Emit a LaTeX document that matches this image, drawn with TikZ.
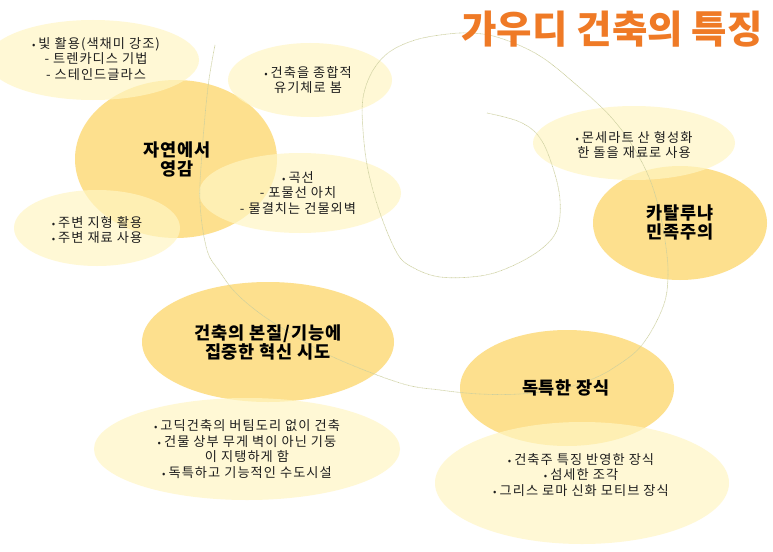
\documentclass[tikz,border=0pt]{standalone}
\usepackage{fontspec}
\setmainfont{Noto Sans CJK KR}
\usetikzlibrary{shapes.geometric}
\definecolor{gold}{RGB}{253,224,142}
\definecolor{pale}{RGB}{255,246,196}
\definecolor{curvecol}{RGB}{204,207,158}
\definecolor{titleor}{RGB}{239,122,38}
\definecolor{bodytxt}{RGB}{30,30,30}
\tikzset{
 bigell/.style={ellipse, fill=gold, draw=none, inner sep=0pt},
 paleell/.style={ellipse, fill=pale, fill opacity=0.7, draw=none, inner sep=0pt},
 mainlbl/.style={font=\fontsize{17.5}{19}\selectfont\bfseries\addfontfeature{LetterSpace=5}, align=center, text=black, inner sep=0pt},
 bodylbl/.style={font=\fontsize{13.2}{15.6}\selectfont\addfontfeature{LetterSpace=8}, align=center, text=bodytxt, inner sep=0pt},
 spiralline/.style={draw=curvecol, line width=0.6pt, dash pattern=on 0.8pt off 0.5pt},
 titlelbl/.style={font=\fontsize{38.5}{40}\selectfont\bfseries, text=titleor, inner sep=0pt},
}
\newcommand{\bul}{{\fontsize{10}{10}\selectfont •}\hspace{3pt}}
\begin{document}
\begin{tikzpicture}[x=1pt,y=-1pt]
\useasboundingbox (0,0) rectangle (773,551);
\fill[white] (0,0) rectangle (773,551);
\clip (0,0) rectangle (773,551);
% main ellipses
\node[bigell, minimum width=202pt, minimum height=158pt] (e1) at (176,159) {};
\node[bigell, minimum width=174pt, minimum height=114pt] (e2) at (680,223) {};
\node[bigell, minimum width=252pt, minimum height=120pt] (e3) at (268,342) {};
\node[bigell, minimum width=214pt, minimum height=116pt] (e4) at (567,388) {};
% pale ellipses
\node[paleell, minimum width=212pt, minimum height=80pt] (p1) at (93,60) {};
\node[paleell, minimum width=164pt, minimum height=74pt] (p2) at (310,80) {};
\node[paleell, minimum width=202pt, minimum height=80pt] (p3) at (300,193) {};
\node[paleell, minimum width=166pt, minimum height=76pt] (p4) at (97,228) {};
\node[paleell, minimum width=202pt, minimum height=74pt] (p5) at (634,143) {};
\node[paleell, minimum width=306pt, minimum height=102pt] (p6) at (247,449) {};
\node[paleell, minimum width=294pt, minimum height=122pt] (p7) at (582,483) {};
% spiral
\draw[spiralline] plot[smooth, tension=0.6] coordinates {
(487,113) (520,122) (540,138) (553,168) (560,200) (557,230) (540,250) (510,267)
(480,276) (440,277) (412,267) (397,253) (380,213) (368,170) (363,130) (363,98)
(372,72) (388,53) (412,41) (440,35) (470,33) (500,38) (540,56) (580,88)
(610,116) (632,145) (648,175) (658,205) (665,240) (668,275) (663,307) (642,345)
(615,367) (590,380) (560,389) (520,394) (480,394) (440,390) (400,383) (333,357)
(290,333) (258,312) (235,292) (220,272) (207,250) (200,203) (202,153) (208,87) (215,45)};
% labels
\node[mainlbl] (t1) at (177,159) {자연에서\\영감};
\node[mainlbl] (t2) at (680,222) {카탈루냐\\민족주의};
\node[mainlbl] (t3) at (268,342) {건축의 본질/기능에\\집중한 혁신 시도};
\node[mainlbl] (t4) at (566,388) {독특한 장식};
\node[bodylbl] (b1) at (96,59) {\bul 빛 활용(색채미 강조)\\- 트렌카디스 기법\\- 스테인드글라스};
\node[bodylbl] (b2) at (308,80) {\bul 건축을 종합적\\유기체로 봄};
\node[bodylbl] (b3) at (298,193) {\bul 곡선\\- 포물선 아치\\- 물결치는 건물외벽};
\node[bodylbl] (b4) at (97,230) {\bul 주변 지형 활용\\\bul 주변 재료 사용};
\node[bodylbl] (b5) at (634,145) {\bul 몬세라트 산 형성화\\한 돌을 재료로 사용};
\node[bodylbl] (b6) at (247,449) {\bul 고딕건축의 버팀도리 없이 건축\\\bul 건물 상부 무게 벽이 아닌 기둥\\이 지탱하게 함\\\bul 독특하고 기능적인 수도시설};
\node[bodylbl] (b7) at (581,475) {\bul 건축주 특징 반영한 장식\\\bul 섬세한 조각\\\bul 그리스 로마 신화 모티브 장식};
\node[titlelbl] (title) at (612,29) {가우디 건축의 특징};
\end{tikzpicture}
\end{document}
